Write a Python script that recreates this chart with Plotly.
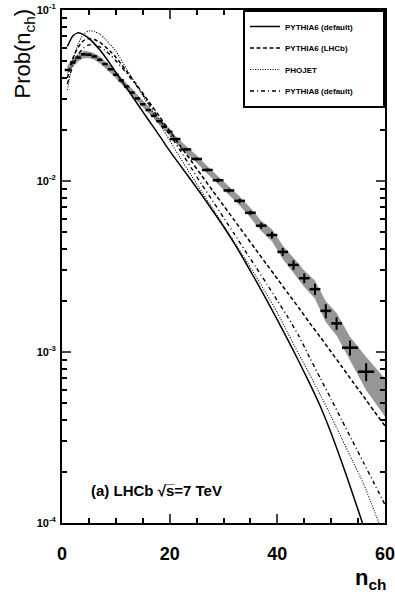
import plotly.graph_objects as go

# ---------------- data ----------------
nch_data = [1, 2, 3, 4, 5, 6, 7, 8, 9, 10, 11, 12, 13, 14, 15, 16, 17, 18, 19, 20,
            21, 23, 25, 27, 29, 31, 33, 35, 37, 39, 41, 43, 45, 47, 49, 51, 53.5, 56.5]
bin_halfwidth = [0.5] * 20 + [1.0] * 16 + [1.5, 1.5]
prob_data = [0.0446, 0.0493, 0.0527, 0.0550, 0.0548, 0.0535, 0.0512, 0.0483, 0.0450, 0.0418,
             0.0387, 0.0357, 0.0329, 0.0304, 0.0281, 0.0260, 0.0241, 0.0224, 0.0208, 0.0194,
             0.0176, 0.0153, 0.01345, 0.0116, 0.0101, 0.0088, 0.00765, 0.00652, 0.00548, 0.00483,
             0.00385, 0.00323, 0.00270, 0.00233, 0.00174, 0.00147, 0.00106, 0.000767]
stat_frac = [0.01] * 20 + [0.015, 0.015, 0.02, 0.02, 0.025, 0.025, 0.03, 0.03, 0.04, 0.045,
                           0.055, 0.065, 0.065, 0.075, 0.095, 0.085, 0.10, 0.12]
sys_frac = [0.06, 0.055, 0.05, 0.05] + [0.045] * 16 + [0.05, 0.05, 0.05, 0.05, 0.05, 0.055, 0.06,
                                                     0.065, 0.07, 0.08, 0.09, 0.10, 0.11, 0.12,
                                                     0.14, 0.15, 0.16, 0.22]
# systematic band end at the frame edge
band_end_nch = 60.0
band_end_lo = 4.2e-4
band_end_hi = 7.0e-4

nch_mc = [1, 2, 3, 4, 5, 6, 7, 8, 9, 10, 12, 14, 16, 18, 20, 22, 24, 26, 28, 30, 32, 34, 36,
          38, 40, 42, 44, 46, 48, 50, 52, 54, 56, 58, 60]
p6_default = [0.0612, 0.0705, 0.0735, 0.0718, 0.0682, 0.0636, 0.0585, 0.0533, 0.0481, 0.0432,
              0.0350, 0.0283, 0.0229, 0.0186, 0.0150, 0.0123, 0.0101, 0.00825, 0.00670, 0.00542,
              0.00432, 0.00338, 0.00262, 0.00202, 0.00154, 0.00117, 0.000880, 0.000655, 0.00048,
              0.000335, 0.000225, 0.000148, 0.0000960, 0.000062, 0.000040]
p6_lhcb = [0.040, 0.052, 0.0605, 0.0662, 0.0680, 0.0672, 0.0648, 0.0612, 0.0572, 0.0530,
           0.0438, 0.0360, 0.0295, 0.0241, 0.0196, 0.0160, 0.0131, 0.0107, 0.00877, 0.00719,
           0.00590, 0.00484, 0.00397, 0.00326, 0.00268, 0.00220, 0.00181, 0.00148, 0.00122,
           0.00100, 0.00082, 0.00067, 0.00055, 0.00045, 0.00037]
phojet = [0.034, 0.050, 0.0635, 0.0720, 0.0755, 0.0750, 0.0722, 0.0678, 0.0627, 0.0575,
          0.0452, 0.0356, 0.0280, 0.0220, 0.0173, 0.0136, 0.0108, 0.0086, 0.0069, 0.0055,
          0.0044, 0.0035, 0.00278, 0.00218, 0.0017, 0.00128, 0.00097, 0.00074, 0.00056,
          0.00042, 0.00031, 0.00023, 0.00017, 0.000118, 0.000080]
p8_default = [0.037, 0.047, 0.055, 0.0600, 0.0625, 0.0625, 0.0608, 0.0580, 0.0545, 0.0505,
              0.0428, 0.0355, 0.0288, 0.0232, 0.0187, 0.0150, 0.01195, 0.0095, 0.00764, 0.00612,
              0.0049, 0.00392, 0.00314, 0.00251, 0.00200, 0.00159, 0.00124, 0.00093, 0.00070,
              0.00053, 0.000398, 0.000300, 0.000226, 0.000170, 0.000128]

x_ticks = [0, 20, 40, 60]
y_ticks = [1e-4, 1e-3, 1e-2, 1e-1]
y_ticktext = ["10<sup>-4</sup>", "10<sup>-3</sup>", "10<sup>-2</sup>", "10<sup>-1</sup>"]
y_minor = [m * 10.0 ** e for e in (-4, -3, -2) for m in range(2, 10)]

FONT = "Liberation Sans, Arial, Helvetica, sans-serif"
PAD = "\u00a0" * 11   # right padding inside the legend box

# ---------------- figure ----------------
fig = go.Figure()

band_lo = [p * (1 - f) for p, f in zip(prob_data, sys_frac)] + [band_end_lo]
band_hi = [p * (1 + f) for p, f in zip(prob_data, sys_frac)] + [band_end_hi]
band_x = nch_data + [band_end_nch]

fig.add_trace(go.Scatter(x=band_x, y=band_lo, mode="lines", line=dict(width=0),
                         showlegend=False, hoverinfo="skip"))
fig.add_trace(go.Scatter(x=band_x, y=band_hi, mode="lines", line=dict(width=0),
                         fill="tonexty", fillcolor="rgb(150,150,150)",
                         showlegend=False, hoverinfo="skip"))

curves = [
    ("PYTHIA6 (default)", p6_default, "solid", 1.5),
    ("PYTHIA6 (LHCb)", p6_lhcb, "4px,2.5px", 1.5),
    ("PHOJET", phojet, "1px,1.5px", 1.1),
    ("PYTHIA8 (default)", p8_default, "4px,3px,1px,3px", 1.4),
]
for i, (name, vals, dash, w) in enumerate(curves):
    fig.add_trace(go.Scatter(x=nch_mc, y=vals, mode="lines", name=name + PAD,
                             legendgroup=f"g{i}",
                             line=dict(color="black", width=w, dash=dash,
                                       shape="spline", smoothing=0.6)))

fig.add_trace(go.Scatter(
    x=nch_data, y=prob_data, mode="markers",
    marker=dict(size=1, color="black"),
    error_x=dict(type="data", array=bin_halfwidth, color="black", thickness=2.5, width=0),
    error_y=dict(type="data", array=[p * f for p, f in zip(prob_data, stat_frac)],
                 color="black", thickness=2, width=0),
    showlegend=False))

fig.update_layout(
    width=395, height=594,
    margin=dict(l=62, r=10, t=10, b=71, autoexpand=False),
    paper_bgcolor="white", plot_bgcolor="white",
    font=dict(family=FONT, color="black"),
    showlegend=True,
    legend=dict(x=1, y=1, xanchor="right", yanchor="top",
                bgcolor="white", bordercolor="black", borderwidth=2,
                font=dict(size=8, family=FONT, weight="bold"),
                tracegroupgap=2.5, itemwidth=30),
    xaxis=dict(range=[0, 60], tickvals=x_ticks, ticks="inside", ticklen=9, tickwidth=1.5,
               showline=True, linewidth=2, linecolor="black", mirror="allticks",
               showgrid=False, zeroline=False, automargin=False,
               tickfont=dict(size=18, family=FONT, weight="bold"),
               ticklabelstandoff=13, ticklabeloverflow="allow",
               minor=dict(dtick=5, ticks="inside", ticklen=5, tickwidth=1.5,
                          tickcolor="black", showgrid=False)),
    yaxis=dict(type="log", range=[-4, -1], tickvals=y_ticks, ticktext=y_ticktext,
               ticks="inside", ticklen=9, tickwidth=1.5,
               showline=True, linewidth=2, linecolor="black", mirror="allticks",
               showgrid=False, zeroline=False, automargin=False,
               tickfont=dict(size=11, family=FONT, weight="bold"),
               ticklabelstandoff=2, ticklabeloverflow="allow",
               minor=dict(tickvals=y_minor, ticks="inside", ticklen=5, tickwidth=1.5,
                          tickcolor="black", showgrid=False)),
)

fig.add_annotation(text="Prob(n<sub>ch</sub>)", xref="paper", yref="paper",
                   x=-0.118, y=0.915, xanchor="center", yanchor="middle",
                   textangle=-90, showarrow=False,
                   font=dict(size=22, family=FONT))
fig.add_annotation(text="<b>n<sub>ch</sub></b>", xref="paper", yref="paper",
                   x=0.955, y=-0.11, xanchor="center", yanchor="middle", showarrow=False,
                   font=dict(size=22, family=FONT))
fig.add_annotation(text="<b>(a) LHCb √s\u0305=7 TeV</b>", xref="paper", yref="paper",
                   x=0.294, y=0.064, xanchor="center", yanchor="middle", showarrow=False,
                   font=dict(size=15, family=FONT))

fig.write_html("out.html", config={"displayModeBar": False},
               post_script="document.body.style.margin='0px';")
